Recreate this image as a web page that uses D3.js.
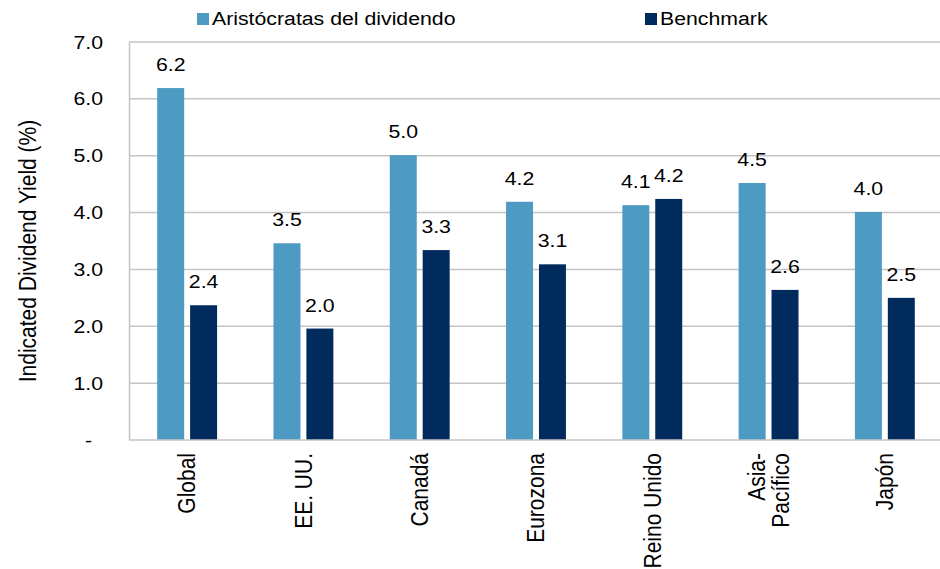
<!DOCTYPE html>
<html>
<head>
<meta charset="utf-8">
<script src="https://cdn.jsdelivr.net/npm/d3@7"></script>
<style>
    body { margin: 0; background: #fff; }
    svg { display: block; font-family: "Liberation Sans", Arial, sans-serif; }
</style>
</head>
<body>
<div class="chartContainer"></div>
<script>
// categories and series
var categories = ['Global', 'EE. UU.', 'Canadá', 'Eurozona', 'Reino Unido', 'Asia-\nPacífico', 'Japón']
var seriesNames = ['Aristócratas del dividendo', 'Benchmark']
var aristocratas = [6.19, 3.46, 5.01, 4.19, 4.13, 4.52, 4.01]
var benchmark = [2.37, 1.96, 3.34, 3.09, 4.24, 2.64, 2.50]
var yTicks = [0, 1, 2, 3, 4, 5, 6, 7]
var yTickLabels = ['-', '1.0', '2.0', '3.0', '4.0', '5.0', '6.0', '7.0']
var colors = ['#4D9AC3', '#002B5C']

var width = 940, height = 569
var sx = 1.12 // the source picture is slightly stretched sideways

var rows = categories.map(function (c, i) {
    return { cat: c, values: [aristocratas[i], benchmark[i]] }
})

var svg = d3.select('.chartContainer')
    .append('svg')
    .attr('width', width)
    .attr('height', height)

var x0 = d3.scaleBand()
    .domain(categories)
    .range([129, 943])
    .paddingInner(0.485)
    .paddingOuter(0.2425)

var x1 = d3.scaleBand()
    .domain(seriesNames)
    .range([0, x0.bandwidth()])
    .paddingInner(0.18)

var y = d3.scaleLinear()
    .domain([0, 7])
    .range([440, 42])

// gridlines
svg.append('g')
    .classed('grid', true)
    .selectAll('line')
    .data(yTicks.filter(function (d) { return d > 0 }))
    .enter()
    .append('line')
    .attr('x1', 129)
    .attr('x2', 943)
    .attr('y1', function (d) { return y(d) })
    .attr('y2', function (d) { return y(d) })
    .attr('stroke', '#C4C4C4')
    .attr('stroke-width', 1.5)

// bars
var groups = svg.append('g')
    .selectAll('g.group')
    .data(rows)
    .enter()
    .append('g')
    .classed('group', true)
    .attr('transform', function (d) { return 'translate(' + x0(d.cat) + ',0)' })

groups.selectAll('rect')
    .data(function (d) { return d.values.map(function (v, i) { return { key: seriesNames[i], v: v, i: i } }) })
    .enter()
    .append('rect')
    .attr('x', function (d) { return x1(d.key) })
    .attr('y', function (d) { return y(d.v) })
    .attr('width', x1.bandwidth())
    .attr('height', function (d) { return y(0) - y(d.v) })
    .attr('fill', function (d) { return colors[d.i] })

// value labels
groups.selectAll('text')
    .data(function (d) { return d.values.map(function (v, i) { return { key: seriesNames[i], v: v } }) })
    .enter()
    .append('text')
    .attr('transform', function (d) {
        return 'translate(' + (x1(d.key) + x1.bandwidth() / 2) + ',' + (y(d.v) - 17) + ') scale(' + sx + ',1)'
    })
    .attr('text-anchor', 'middle')
    .attr('font-size', 19)
    .attr('fill', '#000')
    .text(function (d) { return d3.format('.1f')(d.v) })

// axes lines
var yAxis = d3.axisLeft(y)
    .tickValues(yTicks)
    .tickFormat(function (d, i) { return yTickLabels[i] })
    .tickSize(0)
    .tickPadding(26)

var yg = svg.append('g')
    .attr('transform', 'translate(129,0)')
    .call(yAxis)
yg.select('.domain').attr('stroke', '#C4C4C4').attr('stroke-width', 1.5)
yg.selectAll('text')
    .attr('font-size', 19)
    .attr('font-family', '"Liberation Sans", Arial, sans-serif')
    .attr('fill', '#000')
    .attr('transform', function (d) { return 'translate(' + (d === 0 ? -11 : 0) + ',0)' })
    .each(function () {
        var t = d3.select(this)
        var xx = +t.attr('x')
        t.attr('transform', t.attr('transform') + ' translate(' + xx + ',0) scale(' + sx + ',1) translate(' + (-xx) + ',0)')
    })

svg.append('line')
    .attr('x1', 129)
    .attr('x2', 943)
    .attr('y1', y(0))
    .attr('y2', y(0))
    .attr('stroke', '#C4C4C4')
    .attr('stroke-width', 1.5)

// category labels, rotated
var catLabels = svg.append('g')
    .selectAll('g.cat')
    .data(categories)
    .enter()
    .append('g')
    .classed('cat', true)

catLabels.each(function (c) {
    var lines = c.split('\n')
    var cx = x0(c) + x0.bandwidth() / 2
    var g = d3.select(this)
    lines.forEach(function (line, k) {
        var off = (k - (lines.length - 1) / 2) * 24
        g.append('text')
            .attr('transform', 'translate(' + (cx + off) + ',453) scale(' + sx + ',1) rotate(-90)')
            .attr('text-anchor', 'end')
            .attr('dy', '0.35em')
            .attr('font-size', 21)
            .attr('fill', '#000')
            .text(line)
    })
})

// y axis title
svg.append('text')
    .attr('transform', 'translate(28,251) scale(' + sx + ',1) rotate(-90)')
    .attr('text-anchor', 'middle')
    .attr('dy', '0.35em')
    .attr('font-size', 21)
    .attr('fill', '#000')
    .text('Indicated Dividend Yield (%)')

// legend
var legendX = [197, 645]
var legend = svg.append('g')
    .selectAll('g.leg')
    .data(seriesNames)
    .enter()
    .append('g')
    .classed('leg', true)
    .attr('transform', function (d, i) { return 'translate(' + legendX[i] + ',13)' })

legend.append('rect')
    .attr('width', 12)
    .attr('height', 12)
    .attr('fill', function (d, i) { return colors[i] })

legend.append('text')
    .attr('transform', 'translate(15,12) scale(' + sx + ',1)')
    .attr('font-size', 19)
    .attr('fill', '#000')
    .text(function (d) { return d })
</script>
</body>
</html>
